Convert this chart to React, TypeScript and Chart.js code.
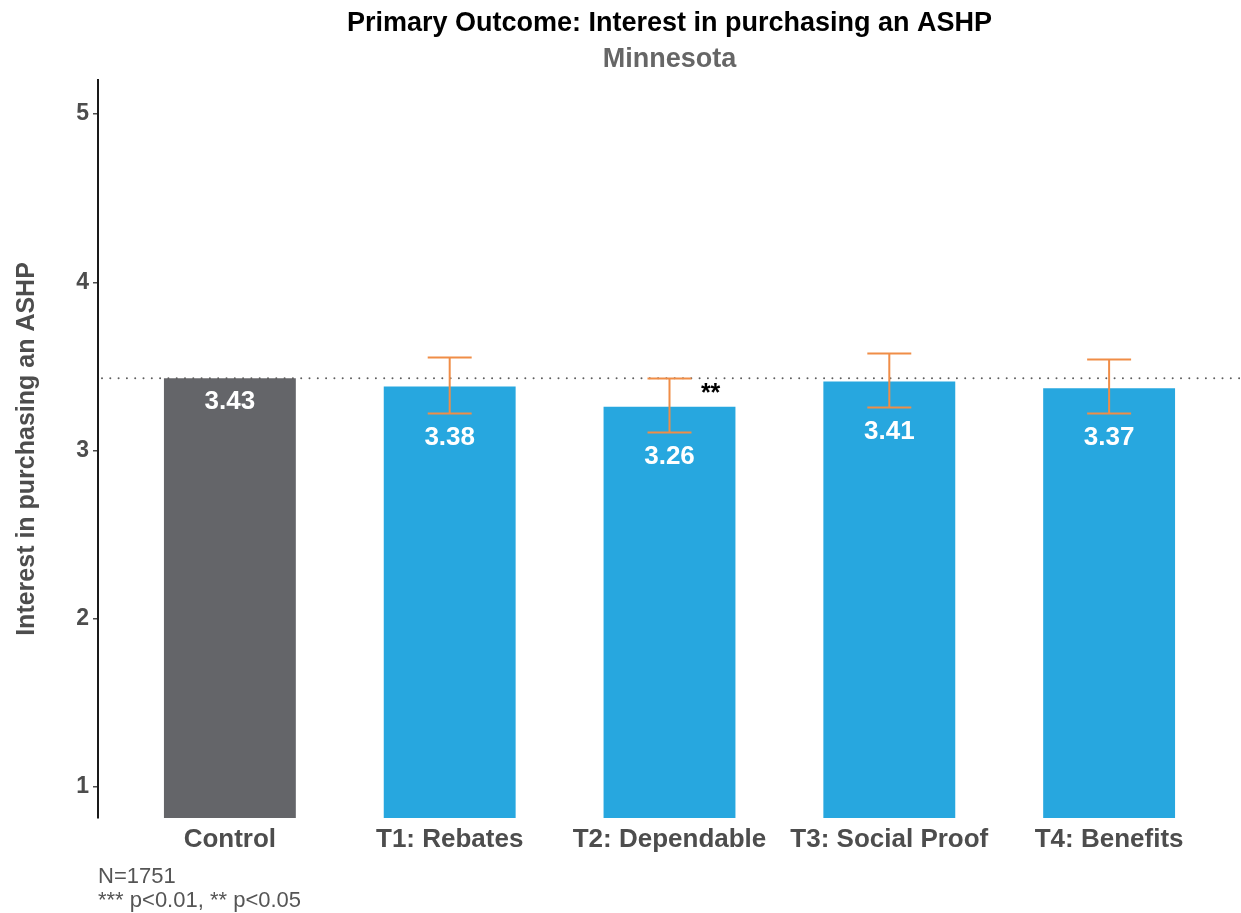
import { useEffect, useRef } from "react";
import { Chart, registerables } from "chart.js";

Chart.register(...registerables);

// Treatment arms and their mean interest scores with 95% confidence bounds
const categories = ["Control", "T1: Rebates", "T2: Dependable", "T3: Social Proof", "T4: Benefits"];
const means = [3.43, 3.38, 3.26, 3.41, 3.37];
const ciLower: (number | null)[] = [null, 3.22, 3.107, 3.256, 3.22];
const ciUpper: (number | null)[] = [null, 3.553, 3.428, 3.577, 3.541];
const significance = ["", "", "**", "", ""];
const yTicks = [1, 2, 3, 4, 5];

const titleText = "Primary Outcome: Interest in purchasing an ASHP";
const subtitleText = "Minnesota";
const yAxisTitle = "Interest in purchasing an ASHP";
const footnotes = ["N=1751", "*** p<0.01, ** p<0.05"];

const CONTROL_COLOR = "#646569";
const TREATMENT_COLOR = "#27A7DF";
const ERROR_COLOR = "#F08D47";
const FONT = "'Liberation Sans', Arial, Helvetica, sans-serif";

const overlayPlugin = {
  id: "overlay",
  afterDatasetsDraw(chart: any) {
    const { ctx, chartArea } = chart;
    const x = chart.scales.x;
    const y = chart.scales.y;
    ctx.save();

    // dotted reference line at the control mean
    const refY = y.getPixelForValue(means[0]);
    ctx.strokeStyle = "#5f5f5f";
    ctx.lineWidth = 2;
    ctx.lineCap = "round";
    ctx.setLineDash([0, 8.3]);
    ctx.beginPath();
    ctx.moveTo(chartArea.left + 4, refY);
    ctx.lineTo(chartArea.right, refY);
    ctx.stroke();
    ctx.setLineDash([]);
    ctx.lineCap = "butt";

    // confidence interval whiskers
    ctx.strokeStyle = ERROR_COLOR;
    ctx.lineWidth = 2;
    means.forEach((_, i) => {
      const lo = ciLower[i];
      const hi = ciUpper[i];
      if (lo == null || hi == null) return;
      const cx = x.getPixelForValue(i);
      const half = x.getPixelForValue(i + 0.1) - cx;
      const yl = y.getPixelForValue(lo);
      const yu = y.getPixelForValue(hi);
      ctx.beginPath();
      ctx.moveTo(cx, yl);
      ctx.lineTo(cx, yu);
      ctx.moveTo(cx - half, yl);
      ctx.lineTo(cx + half, yl);
      ctx.moveTo(cx - half, yu);
      ctx.lineTo(cx + half, yu);
      ctx.stroke();
    });

    // value labels below the lower bound (or the bar top for control)
    ctx.fillStyle = "#ffffff";
    ctx.font = `bold 26px ${FONT}`;
    ctx.textAlign = "center";
    ctx.textBaseline = "middle";
    means.forEach((m, i) => {
      const anchor = ciLower[i] ?? m;
      const cx = x.getPixelForValue(i);
      ctx.fillText(m.toFixed(2), cx, y.getPixelForValue(anchor) + 24);
    });

    // significance stars
    ctx.fillStyle = "#000000";
    ctx.font = `bold 25px ${FONT}`;
    significance.forEach((s, i) => {
      if (!s) return;
      const hi = ciUpper[i] ?? means[i];
      ctx.fillText(s, x.getPixelForValue(i + 0.187), y.getPixelForValue(hi) + 16);
    });

    ctx.restore();
  },
  afterDraw(chart: any) {
    const { ctx, chartArea } = chart;
    const cx = (chartArea.left + chartArea.right) / 2;
    ctx.save();
    ctx.textAlign = "center";
    ctx.textBaseline = "alphabetic";
    ctx.fillStyle = "#000000";
    ctx.font = `bold 27px ${FONT}`;
    ctx.fillText(titleText, cx, 31);
    ctx.fillStyle = "#666666";
    ctx.font = `bold 27px ${FONT}`;
    ctx.fillText(subtitleText, cx, 67);

    ctx.textAlign = "left";
    ctx.fillStyle = "#555555";
    ctx.font = `22px ${FONT}`;
    footnotes.forEach((line, i) => {
      ctx.fillText(line, chartArea.left, 883 + i * 24);
    });
    ctx.restore();
  },
};

export default function App() {
  const canvasRef = useRef<HTMLCanvasElement | null>(null);

  useEffect(() => {
    document.body.style.margin = "0";
    const canvas = canvasRef.current;
    if (!canvas) return;

    const chart = new Chart(canvas, {
      type: "bar",
      data: {
        datasets: [
          {
            data: means.map((m, i) => ({ x: i, y: m })),
            backgroundColor: means.map((_, i) => (i === 0 ? CONTROL_COLOR : TREATMENT_COLOR)),
            borderWidth: 0,
            barPercentage: 0.6,
            categoryPercentage: 1,
          },
        ],
      },
      options: {
        responsive: false,
        animation: false,
        layout: { padding: { top: 80, left: 0, right: 0, bottom: 0 } },
        plugins: {
          legend: { display: false },
          tooltip: { enabled: false },
          title: { display: false },
        },
        scales: {
          x: {
            type: "linear",
            min: -0.6,
            max: 4.6,
            offset: false,
            afterBuildTicks: (s: any) => {
              s.ticks = categories.map((_, i) => ({ value: i }));
            },
            afterFit: (s: any) => {
              s.height = 95;
            },
            ticks: {
              callback: (v: any) => categories[v as number] ?? "",
              autoSkip: false,
              maxRotation: 0,
              font: { family: FONT, size: 26, weight: "bold" },
              color: "#4D4D4D",
              padding: 6,
            },
            grid: { display: false, drawTicks: false },
            border: { display: false },
          },
          y: {
            type: "linear",
            min: 0.816,
            max: 5.202,
            beginAtZero: false,
            afterBuildTicks: (s: any) => {
              s.ticks = yTicks.map((v) => ({ value: v }));
            },
            afterFit: (s: any) => {
              s.width = 98;
            },
            ticks: {
              font: { family: FONT, size: 23, weight: "bold" },
              color: "#4D4D4D",
              padding: 4,
            },
            grid: {
              drawOnChartArea: false,
              drawTicks: true,
              tickLength: 5,
              color: "#4D4D4D",
              lineWidth: 1.5,
            },
            border: { display: true, color: "#1a1a1a", width: 2 },
            title: {
              display: true,
              text: yAxisTitle,
              font: { family: FONT, size: 25, weight: "bold" },
              color: "#4D4D4D",
              padding: { top: 12, bottom: 0 },
            },
          },
        },
      },
      plugins: [overlayPlugin],
    } as any);

    return () => chart.destroy();
  }, []);

  return (
    <div style={{ width: 1241, height: 913 }}>
      <canvas ref={canvasRef} width={1241} height={913} style={{ display: "block" }} />
    </div>
  );
}
